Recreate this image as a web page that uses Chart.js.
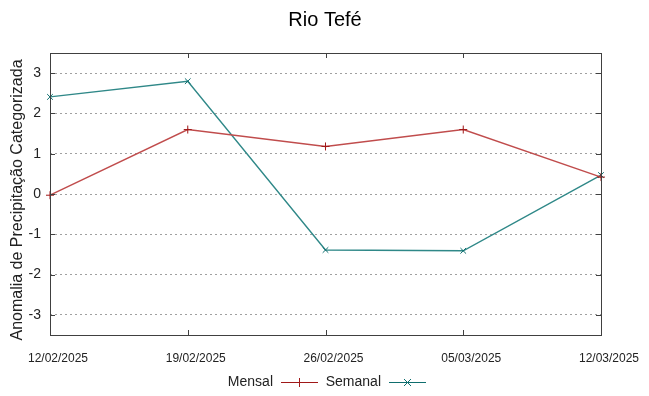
<!DOCTYPE html>
<html><head><meta charset="utf-8">
<script src="https://cdn.jsdelivr.net/npm/chart.js@4"></script>
<style>html,body{margin:0;padding:0;background:#fff}#w{width:649px;height:396px}</style>
</head><body><div id="w"><canvas id="c" width="649" height="396"></canvas></div>
<script>
const categories = ["12/02/2025","19/02/2025","26/02/2025","05/03/2025","12/03/2025"];
const mensal = [-0.03, 1.6, 1.18, 1.6, 0.42];
const semanal = [2.41, 2.8, -1.39, -1.41, 0.47];
const yTicks = [-3,-2,-1,0,1,2,3];
const titleText = "Rio Tefé";
const yTitle = "Anomalia de Precipitação Categorizada";

const RED = "#c04c4c", RED_PT = "#a01818", TEAL = "#2f8888", TEAL_PT = "#0f6e6e";

const deco = {
  id: 'deco',
  afterDraw(chart) {
    const ctx = chart.ctx, a = chart.chartArea;
    const xs = chart.scales.x, ys = chart.scales.y;
    ctx.save();
    ctx.strokeStyle = "#404040"; ctx.lineWidth = 1;
    ctx.strokeRect(Math.round(a.left)+0.5, Math.round(a.top)+0.5, Math.round(a.right-a.left), Math.round(a.bottom-a.top));
    ctx.beginPath();
    yTicks.forEach(v => {
      const y = Math.round(ys.getPixelForValue(v))+0.5;
      ctx.moveTo(a.left, y); ctx.lineTo(a.left+5, y);
      ctx.moveTo(a.right, y); ctx.lineTo(a.right-5, y);
    });
    categories.forEach((c,i) => {
      const x = Math.round(xs.getPixelForValue(i))+0.5;
      ctx.moveTo(x, a.bottom); ctx.lineTo(x, a.bottom-5);
      ctx.moveTo(x, a.top); ctx.lineTo(x, a.top+5);
    });
    ctx.stroke();
    // title
    ctx.fillStyle = "#000";
    ctx.font = "20px 'Liberation Sans', Arial, sans-serif";
    ctx.textAlign = "center"; ctx.textBaseline = "middle";
    ctx.fillText(titleText, 325, 20);
    // y title
    ctx.save();
    ctx.translate(18, 200);
    ctx.rotate(-Math.PI/2);
    ctx.fillStyle = "#222";
    ctx.font = "16px 'Liberation Sans', Arial, sans-serif";
    ctx.fillText(yTitle, 0, 0);
    ctx.restore();
    // legend
    ctx.font = "14px 'Liberation Sans Narrow', 'Liberation Sans', Arial, sans-serif";
    ctx.textAlign = "right";
    const ly = 382;
    const items = [[chart.data.datasets[0].label, RED_PT, 273, 'plus'], [chart.data.datasets[1].label, TEAL_PT, 381, 'x']];
    items.forEach(([t, col, xe, m]) => {
      ctx.fillStyle = "#222";
      ctx.fillText(t, xe, ly);
      ctx.strokeStyle = col; ctx.lineWidth = 1;
      ctx.beginPath();
      ctx.moveTo(xe+8, ly+0.5); ctx.lineTo(xe+45, ly+0.5);
      const cx = xe+26;
      if (m === 'plus') { ctx.moveTo(cx+0.5, ly-4); ctx.lineTo(cx+0.5, ly+5); }
      else { ctx.moveTo(cx-3, ly-3); ctx.lineTo(cx+4, ly+4); ctx.moveTo(cx+4, ly-3); ctx.lineTo(cx-3, ly+4); }
      ctx.stroke();
    });
    ctx.restore();
  }
};

new Chart(document.getElementById('c'), {
  type: 'line',
  data: {
    labels: categories,
    datasets: [
      { label: "Mensal", data: mensal, borderColor: RED, backgroundColor: RED_PT, pointBorderColor: RED_PT, borderWidth: 1.4,
        pointStyle: 'cross', pointRadius: 4, pointBorderWidth: 1, tension: 0, fill: false },
      { label: "Semanal", data: semanal, borderColor: TEAL, backgroundColor: TEAL_PT, pointBorderColor: TEAL_PT, borderWidth: 1.4,
        pointStyle: 'crossRot', pointRadius: 4, pointBorderWidth: 1, tension: 0, fill: false }
    ]
  },
  options: {
    responsive: false, animation: false, devicePixelRatio: 1,
    layout: { padding: { top: 53, right: 48, bottom: 0, left: 0 } },
    plugins: { legend: { display: false }, title: { display: false }, tooltip: { enabled: false } },
    scales: {
      x: {
        type: 'category', offset: false,
        grid: { display: false, drawTicks: false },
        border: { display: false },
        ticks: { color: "#222", maxRotation: 0, autoSkip: false, padding: 16, labelOffset: 8,
          font: { family: "'Liberation Sans Narrow', 'Liberation Sans', Arial", size: 12 } },
        afterFit(s) { s.height = 61; }
      },
      y: {
        min: -3.5, max: 3.5,
        afterBuildTicks(s) { s.ticks = yTicks.map(v => ({ value: v })); },
        grid: { color: "#a0a0a0", lineWidth: 1, drawTicks: false },
        border: { display: false, dash: [2, 3] },
        ticks: { color: "#222", padding: 9,
          font: { family: "'Liberation Sans', Arial", size: 14 } },
        afterFit(s) { s.width = 50; }
      }
    }
  },
  plugins: [deco]
});
</script>
</body></html>
